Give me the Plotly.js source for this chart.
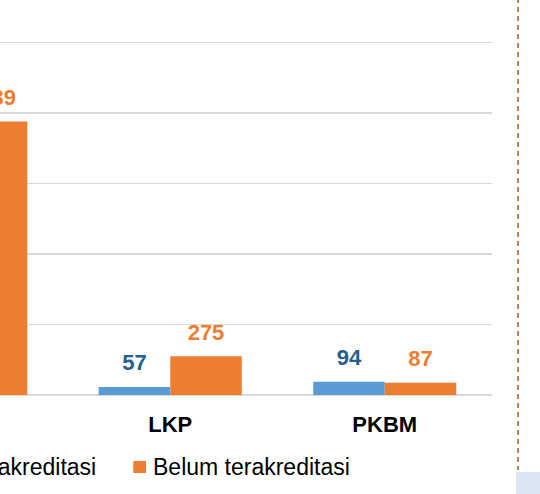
<!DOCTYPE html>
<html>
<head>
<meta charset="utf-8">
<script src="https://cdn.plot.ly/plotly-3.0.1.min.js"></script>
<style>html,body{margin:0;padding:0;background:#fff;overflow:hidden;width:540px;height:494px}#chart{position:absolute;top:0;left:-100px}</style>
</head>
<body>
<div id="chart"></div>
<script>
// Data
const categories = ["PAUD", "LKP", "PKBM"];
const sudahValues = [1030, 57, 94];
const belumValues = [1939, 275, 87];
const seriesNames = ["Sudah terakreditasi", "Belum terakreditasi"];

const BLUE = "#5B9BD5", ORANGE = "#ED7D31";
const BLUE_TXT = "#255E91";
const FONT = "Arial, 'Liberation Sans', sans-serif";

// The figure extends 100px to the left of the visible window (the reference is a crop).
const D = 100;
const W = 540 + D, H = 494, ML = 0, MR = 48, MT = 30, MB = 99;
const PW = W - ML - MR, PH = H - MT - MB;
const px = x => (x + D - ML) / PW;     // window pixel -> paper x
const py = y => (H - MB - y) / PH;     // window pixel -> paper y
const SLOT = 214.5;                    // pixels per category

const off = 1 / 6; // half of a bar slot within a group
const idx = categories.map((c, i) => i);

const traces = [
  {type: "bar", name: seriesNames[0], x: idx, y: sudahValues, marker: {color: BLUE}, hoverinfo: "skip"},
  {type: "bar", name: seriesNames[1], x: idx, y: belumValues, marker: {color: ORANGE}, hoverinfo: "skip"},
  // value labels
  {type: "scatter", mode: "markers+text", x: idx.map(i => i - off), y: sudahValues, text: sudahValues.map(String),
    textposition: "top center", marker: {size: 16, opacity: 0}, cliponaxis: false, hoverinfo: "skip",
    textfont: {family: FONT, size: 22, color: BLUE_TXT, weight: "bold"}},
  {type: "scatter", mode: "markers+text", x: idx.map(i => i + off), y: belumValues, text: belumValues.map(String),
    textposition: "top center", marker: {size: 16, opacity: 0}, cliponaxis: false, hoverinfo: "skip",
    textfont: {family: FONT, size: 22, color: ORANGE, weight: "bold"}}
];

const annotations = [
  {xref: "paper", yref: "paper", x: px(98), y: py(466.7), xanchor: "right", yanchor: "middle",
    text: seriesNames[0], showarrow: false, font: {family: FONT, size: 23, color: "#000"}},
  {xref: "paper", yref: "paper", x: px(151), y: py(466.7), xanchor: "left", yanchor: "middle",
    text: seriesNames[1], showarrow: false, font: {family: FONT, size: 23, color: "#000"}}
];

const shapes = [
  {type: "rect", xref: "paper", yref: "paper", x0: px(-20), x1: px(-7), y0: py(473), y1: py(461), fillcolor: BLUE, line: {width: 0}},
  {type: "rect", xref: "paper", yref: "paper", x0: px(133.3), x1: px(146), y0: py(473), y1: py(461), fillcolor: ORANGE, line: {width: 0}},
  {type: "rect", xref: "paper", yref: "paper", x0: px(516), x1: px(545), y0: py(499), y1: py(472), fillcolor: "#DCE6F2", line: {width: 0}},
  {type: "line", xref: "paper", yref: "paper", x0: px(518), x1: px(518), y0: py(-2), y1: py(470), line: {color: "#B0561E", width: 1.5, dash: "5px,4px"}}
];

const layout = {
  width: W, height: H,
  margin: {l: ML, r: MR, t: MT, b: MB, autoexpand: false},
  paper_bgcolor: "#fff", plot_bgcolor: "#fff",
  showlegend: false,
  barmode: "group", bargap: 0.333, bargroupgap: 0,
  xaxis: {type: "linear", range: [2.5 - PW / SLOT, 2.5], tickmode: "array", tickvals: idx, ticktext: categories,
    showgrid: false, zeroline: false, showline: false, ticks: "",
    tickfont: {family: FONT, size: 22, color: "#000", weight: "bold"}, ticklabelstandoff: 14, fixedrange: true},
  yaxis: {range: [0, 2587], dtick: 500, tick0: 0, showgrid: true, gridcolor: "#D9D9D9", gridwidth: 1.5,
    zeroline: true, zerolinecolor: "#D9D9D9", zerolinewidth: 1.5, showticklabels: false, ticks: "", fixedrange: true},
  annotations: annotations,
  shapes: shapes,
  hovermode: false
};

Plotly.newPlot("chart", traces, layout, {displayModeBar: false, staticPlot: true});
</script>
</body>
</html>
